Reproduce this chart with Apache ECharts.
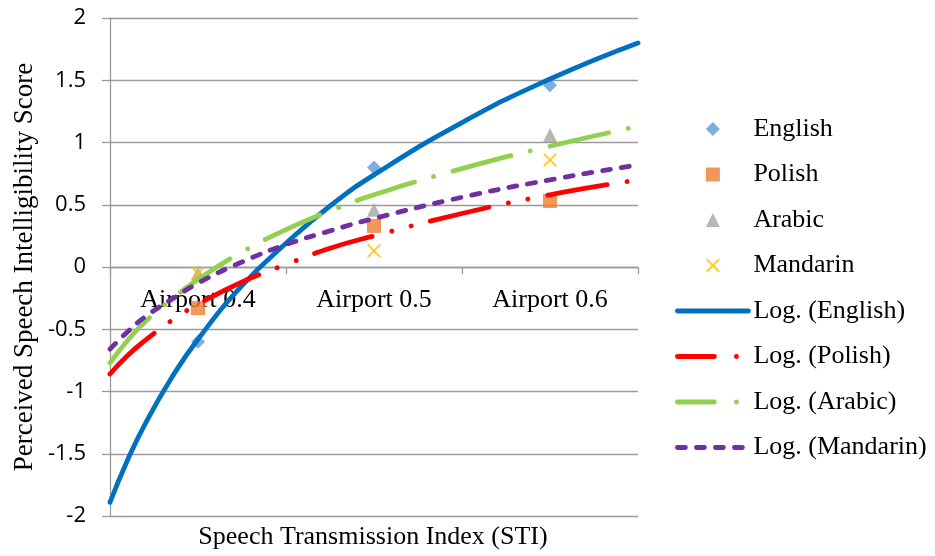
<!DOCTYPE html>
<html>
<head>
<meta charset="utf-8">
<title>Perceived Speech Intelligibility</title>
<script src="https://cdn.jsdelivr.net/npm/echarts@6/dist/echarts.min.js"></script>
<style>
  html, body { margin: 0; padding: 0; background: #fff; }
  #chart { width: 935px; height: 556px; }
</style>
</head>
<body>
<div id="chart"></div>
<script>
const categories = ['Airport 0.4', 'Airport 0.5', 'Airport 0.6']
const yTicks = [-2, -1.5, -1, -0.5, 0, 0.5, 1, 1.5, 2]

// measured scores
const english = [-0.6, 0.8, 1.46]
const polish = [-0.33, 0.33, 0.53]
const arabic = [-0.05, 0.46, 1.06]
const mandarin = [-0.05, 0.13, 0.86]

// trendline curves (x = category position, 1..3, edges 0.5 / 3.5)
const trendX = [0.5, 0.6, 0.7, 0.85, 1, 1.25, 1.5, 1.75, 2, 2.5, 3, 3.5]
const englishLog = [-1.89, -1.55, -1.26, -0.89, -0.58, -0.15, 0.19, 0.49, 0.74, 1.16, 1.51, 1.80]
const polishLog = [-0.86, -0.71, -0.59, -0.43, -0.30, -0.12, 0.02, 0.15, 0.25, 0.43, 0.58, 0.70]
const arabicLog = [-0.77, -0.59, -0.44, -0.26, -0.10, 0.12, 0.30, 0.45, 0.58, 0.79, 0.97, 1.13]
const mandarinLog = [-0.66, -0.52, -0.40, -0.26, -0.13, 0.04, 0.18, 0.29, 0.39, 0.56, 0.70, 0.82]

const serif = '"Liberation Serif", "Times New Roman", serif'
const gray = '#9a9a9a'
const trendWidth = 4.8

// path symbols so the legend keeps them square instead of stretching them
const diamondPath = 'path://M5,0L10,5L5,10L0,5Z'
const squarePath = 'path://M0,0L10,0L10,10L0,10Z'
const trianglePath = 'path://M5,0L10,10L0,10Z'
const crossPath = 'path://M0,1L1,0L10,9L9,10ZM9,0L10,1L1,10L0,9Z'

// dash patterns: in the plot, and the shorter sample shown in the legend
const polishDash = [60, 20, 0.1, 20, 0.1, 20]
const arabicDash = [60, 20, 0.1, 20]
const mandarinDash = [8, 11]
const legendDotDash = [37, 22, 0.1, 40]

function pairs(xs, ys) {
  return xs.map((x, i) => [x, ys[i]])
}

function marker(name, data, symbol, color) {
  return {
    name: name,
    type: 'scatter',
    xAxisIndex: 0,
    data: data,
    symbol: symbol,
    symbolSize: 14,
    symbolKeepAspect: true,
    itemStyle: { color: color },
    z: 2
  }
}

function trend(name, data, color, dash) {
  return {
    name: name,
    type: 'line',
    xAxisIndex: 1,
    data: pairs(trendX, data),
    symbol: 'none',
    showSymbol: false,
    smooth: true,
    itemStyle: { color: color },
    lineStyle: { color: color, width: trendWidth, type: dash, cap: 'round' },
    z: 3
  }
}

function trendKey(name, dash) {
  return {
    name: name,
    itemStyle: { opacity: 0 },
    lineStyle: { width: trendWidth, type: dash, cap: 'round' }
  }
}

const chart = echarts.init(document.getElementById('chart'))

chart.setOption({
  animation: false,
  backgroundColor: '#fff',
  grid: { left: 110, right: 297, top: 18, bottom: 40 },
  legend: {
    orient: 'vertical',
    left: 675,
    top: 116,
    padding: 0,
    itemWidth: 71,
    itemHeight: 14,
    itemGap: 19.5,
    symbolKeepAspect: true,
    itemStyle: { borderWidth: 0 },
    textStyle: { fontFamily: serif, fontSize: 26, color: '#000' },
    data: [
      { name: 'English' },
      { name: 'Polish' },
      { name: 'Arabic' },
      { name: 'Mandarin' },
      trendKey('Log. (English)', 'solid'),
      trendKey('Log. (Polish)', legendDotDash),
      trendKey('Log. (Arabic)', legendDotDash),
      trendKey('Log. (Mandarin)', mandarinDash)
    ]
  },
  xAxis: [{
    type: 'category',
    data: categories,
    boundaryGap: true,
    position: 'bottom',
    offset: -249, // Excel draws the category axis where y = 0
    axisLine: { onZero: false, lineStyle: { color: gray, width: 1.3 } },
    axisTick: { show: true, interval: 0, length: 7, lineStyle: { color: gray, width: 1.3 } },
    axisLabel: { margin: 20, fontFamily: serif, fontSize: 26, color: '#000' },
    splitLine: { show: false }
  }, {
    type: 'value',
    min: 0.5,
    max: 3.5,
    show: false
  }],
  yAxis: {
    type: 'value',
    min: yTicks[0],
    max: yTicks[yTicks.length - 1],
    interval: 0.5,
    axisLine: { show: true, onZero: false, lineStyle: { color: gray, width: 1.3 } },
    axisTick: { show: true, length: 8, lineStyle: { color: gray, width: 1.3 } },
    axisLabel: { margin: 24, fontFamily: '"Open Sans", sans-serif', fontSize: 22, color: '#000' },
    splitLine: { show: true, lineStyle: { color: gray, width: 1.3 } }
  },
  graphic: [{
    type: 'text',
    x: 25,
    y: 267,
    rotation: Math.PI / 2,
    style: {
      text: 'Perceived Speech Intelligibility Score',
      font: '27px ' + serif,
      fill: '#000',
      align: 'center',
      verticalAlign: 'middle'
    }
  }, {
    type: 'text',
    x: 373,
    y: 537,
    style: {
      text: 'Speech Transmission Index (STI)',
      font: '26px ' + serif,
      fill: '#000',
      align: 'center',
      verticalAlign: 'middle'
    }
  }],
  series: [
    marker('English', english, diamondPath, '#5B9BD5'),
    marker('Polish', polish, squarePath, '#ED7D31'),
    marker('Arabic', arabic, trianglePath, '#A5A5A5'),
    marker('Mandarin', mandarin, crossPath, '#FFC000'),
    trend('Log. (English)', englishLog, '#0070C0', 'solid'),
    trend('Log. (Polish)', polishLog, '#FF0000', polishDash),
    trend('Log. (Arabic)', arabicLog, '#92D050', arabicDash),
    trend('Log. (Mandarin)', mandarinLog, '#7030A0', mandarinDash)
  ]
})
</script>
</body>
</html>
